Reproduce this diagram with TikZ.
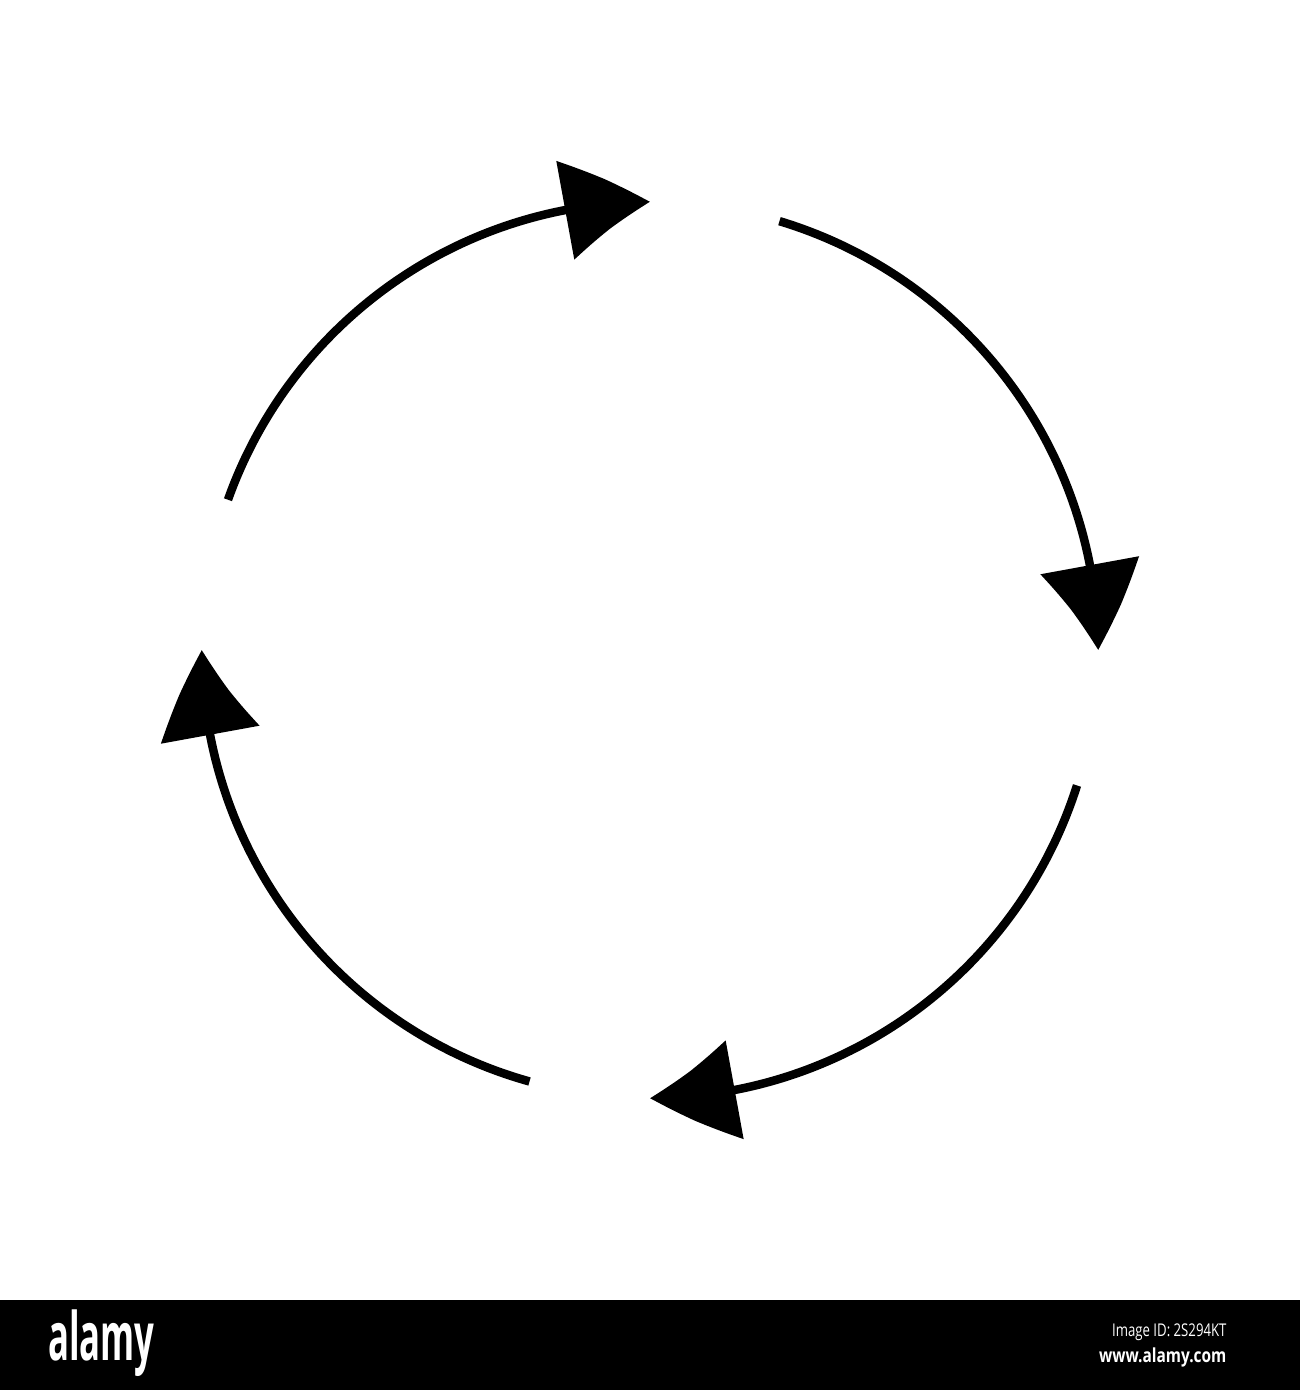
\documentclass[tikz,border=0pt]{standalone}
\usepackage{fontspec}
\setsansfont{Open Sans}
\usetikzlibrary{arrows.meta,bending}

\begin{document}
\begin{tikzpicture}[cyc/.style={line width=0.85mm,-{Triangle[length=8.6mm,width=9.8mm,bend]}},
		mark text/.style={text=white,font=\sffamily}]
		\useasboundingbox (-6.5,-7.4) rectangle (6.5,6.5);
		
		% the four arrows, clockwise (end angle / start angle)
		\foreach \e/\s in {90/160.4,0/73.2,-90/-17.6,-180/-105.6}
			\draw[cyc] (\s:4.48) arc[start angle=\s, end angle=\e, radius=4.48];
		
		% bottom bar
		\fill[black] (-6.5,-7.4) rectangle (6.5,-6.5);
		\node[mark text,anchor=west,xscale=0.52,inner sep=0pt] (logo) at (-6.02,-6.93)
			{\fontsize{19}{19}\selectfont\bfseries alamy};
		\node[mark text,anchor=east,xscale=0.75,inner sep=0pt] (imgid) at (5.77,-6.82)
			{\fontsize{5}{5}\selectfont Image ID: 2S294KT};
		\node[mark text,anchor=east,xscale=0.8,inner sep=0pt] (site) at (5.77,-7.07)
			{\fontsize{5.5}{5.5}\selectfont\bfseries www.alamy.com};
	\end{tikzpicture}
\end{document}
